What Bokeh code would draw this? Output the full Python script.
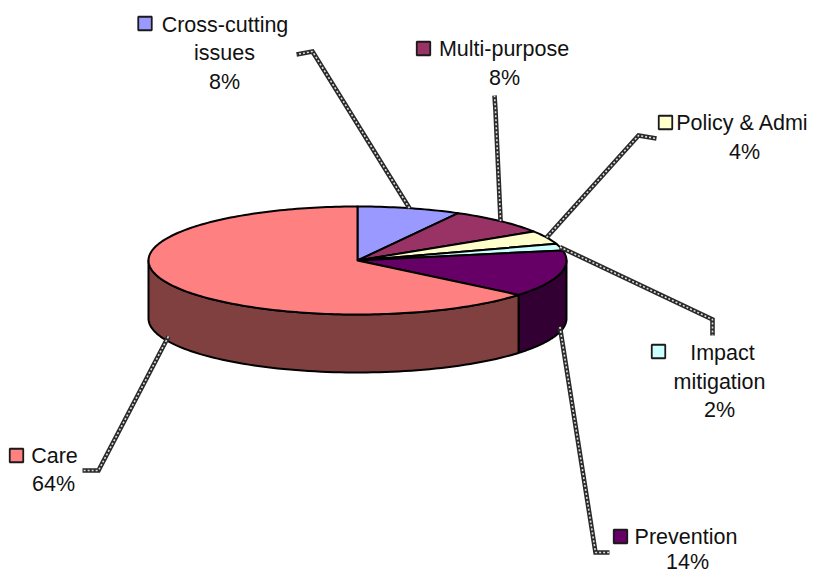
import numpy as np
from bokeh.plotting import figure
from bokeh.core.properties import value
from bokeh.embed import file_html
from bokeh.resources import INLINE

# --- data ---
categories = ["Cross-cutting issues", "Multi-purpose", "Policy & Admi", "Impact mitigation", "Prevention", "Care"]
percents = [8, 8, 4, 2, 14, 64]
colors = ["#9999FF", "#993366", "#FFFFCC", "#CCFFFF", "#660066", "#FF8080"]
side_colors = ["#4C4C80", "#4C1933", "#808066", "#668080", "#330033", "#804040"]

# --- layout (page pixels) ---
CX, CY, RX, RY, DEPTH = 357.0, 260.0, 209.0, 54.0, 58.0
W, H = 814, 572

p = figure(width=W, height=H, output_backend="svg", toolbar_location=None,
           x_range=(0, W), y_range=(H, 0), min_border=0,
           outline_line_color=None, background_fill_color="white")
p.axis.visible = False
p.grid.visible = False


def pt(frac, dy=0.0):
    a = np.asarray(frac) * 2 * np.pi
    return CX + RX * np.sin(a), CY - RY * np.cos(a) + dy


ends = np.cumsum(percents) / sum(percents)
starts = np.concatenate([[0], ends[:-1]])

# side walls (only the front half of the rim is visible)
sx, sy, sc = [], [], []
for s, e, c in zip(starts, ends, side_colors):
    a, b = max(s, 0.25), min(e, 0.75)
    if b <= a:
        continue
    t = np.linspace(a, b, 80)
    x0, y0 = pt(t)
    x1, y1 = pt(t[::-1], DEPTH)
    sx.append(np.concatenate([x0, x1]).tolist())
    sy.append(np.concatenate([y0, y1]).tolist())
    sc.append(c)
p.patches(sx, sy, fill_color=sc, line_color="black", line_width=2, line_join="round")

# top faces
tx, ty = [], []
for s, e in zip(starts, ends):
    t = np.linspace(s, e, max(6, int((e - s) * 300)))
    x, y = pt(t)
    tx.append([CX] + x.tolist())
    ty.append([CY] + y.tolist())
p.patches(tx, ty, fill_color=colors, line_color="black", line_width=2, line_join="round")

# leader lines: start on the slice rim at its middle, then elbow points
elbows = [
    [(312, 51), (296, 54)],
    [(495, 110), (494, 95)],
    [(638, 135), (656, 138)],
    [(712, 319), (712, 335)],
    [(595, 552), (609, 552)],
    [(98, 470), (82, 470)],
]
lx, ly = [], []
for s, e, el in zip(starts, ends, elbows):
    m = (s + e) / 2
    on_front = 0.25 < m < 0.75
    x0, y0 = pt(m, DEPTH - 5 if on_front else 0.0)
    lx.append([float(x0)] + [q[0] for q in el])
    ly.append([float(y0)] + [q[1] for q in el])
p.multi_line(lx, ly, line_color="#2a2a2a", line_width=4.6, line_join="miter")
p.multi_line(lx, ly, line_color="#dddddd", line_width=1.6, line_dash="2 2")

# legend keys
key_x = [144.5, 423, 665, 658, 620, 16]
key_y = [23, 48, 122, 351, 536, 455]
p.scatter(key_x, key_y, marker="square", size=13.5, fill_color=colors,
          line_color="#1a1a1a", line_width=1.8)

# labels
txt = ["Cross-cutting", "issues", "8%", "Multi-purpose", "8%", "Policy & Admi", "4%",
       "Impact", "mitigation", "2%", "Prevention", "14%", "Care", "64%"]
txt_x = [224.5, 224, 224, 503.5, 504, 742, 744, 722, 719, 719, 685.5, 687, 54, 53]
txt_y = [24, 52, 81, 48, 77, 122, 151, 352, 381, 409, 536, 561, 455, 483]
p.text(txt_x, txt_y, text=txt, text_font=value("Liberation Sans"), text_font_size="21.5px",
       text_color="#111111", text_align="center", text_baseline="alphabetic")

open("out.html", "w").write(file_html(p, INLINE))
